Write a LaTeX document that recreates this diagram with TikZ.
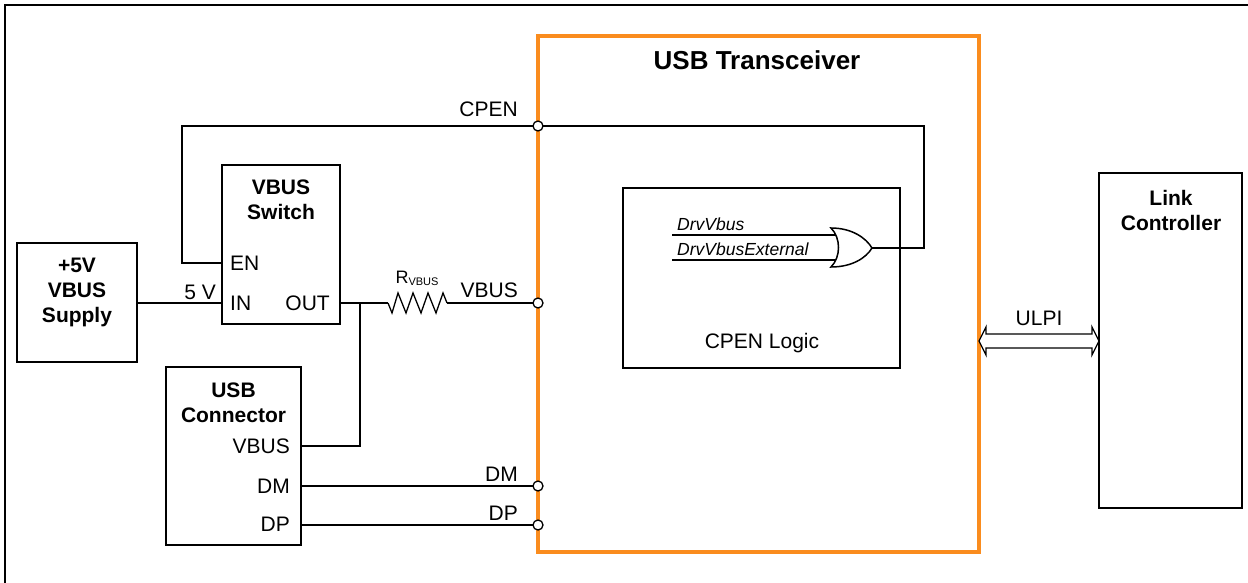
\documentclass[tikz,border=0pt]{standalone}
\usepackage{fontspec}
\setmainfont{Liberation Sans}
\definecolor{orng}{RGB}{250,140,30}
\begin{document}
\begin{tikzpicture}[x=1pt,y=-1pt,
  box/.style={draw, line width=1.5pt, inner sep=0pt},
  wire/.style={line width=1.3pt},
  pin/.style={circle, draw, fill=white, line width=1.3pt, minimum size=10pt, inner sep=0pt},
  lbl/.style={font=\fontsize{21}{25}\selectfont, inner sep=0pt},
  blbl/.style={font=\fontsize{21}{25}\selectfont\bfseries, align=center, inner sep=0pt},
  ilbl/.style={font=\fontsize{17.5}{20}\selectfont\itshape, inner sep=0pt}]
\useasboundingbox (0,0) rectangle (1248,583);
% outer frame (only top and left visible)
\draw[line width=2.5pt] (5,583) -- (5,5) -- (1248,5);

% boxes
\node[box, draw=orng, line width=4pt, minimum width=441pt, minimum height=516pt] (tx) at (758.5,294) {};
\node[box, minimum width=118pt, minimum height=159pt] (sw) at (281,244.5) {};
\node[box, minimum width=120pt, minimum height=119pt] (sup) at (77,302.5) {};
\node[box, minimum width=135pt, minimum height=178pt] (con) at (233.5,456) {};
\node[box, minimum width=277pt, minimum height=180pt] (logic) at (761.5,278) {};
\node[box, minimum width=143pt, minimum height=335pt] (link) at (1170.5,340.5) {};

% box titles
\node[blbl, font=\fontsize{26}{30}\selectfont\bfseries] (txt) at (757,60) {USB Transceiver};
\node[blbl] (swt) at (281,200) {VBUS\\Switch};
\node[blbl] (supt) at (77,292) {+5V\\VBUS\\Supply};
\node[blbl] (cont) at (233.5,403) {USB\\Connector};
\node[blbl] (linkt) at (1171,210) {Link\\Controller};
\node[lbl] (logict) at (762,343) {CPEN Logic};

% pin coordinates
\coordinate (supout) at (137,303);
\coordinate (swin) at (222,303);
\coordinate (swen) at (222,263);
\coordinate (swout) at (340,303);
\coordinate (junc) at (360,303);
\coordinate (rA) at (388,303);
\coordinate (rB) at (447,303);
\coordinate (tvbus) at (538,303);
\coordinate (tcpen) at (538,126);
\coordinate (cvbus) at (301,446);
\coordinate (cdm) at (301,486);
\coordinate (cdp) at (301,525);
\coordinate (tdm) at (538,486);
\coordinate (tdp) at (538,525);
\coordinate (cpl) at (182,126);
\coordinate (cpr) at (924,126);
\coordinate (orout) at (872,248);
\coordinate (in1a) at (672,235);
\coordinate (in1b) at (838,235);
\coordinate (in2a) at (672,260);
\coordinate (in2b) at (838,260);
\coordinate (ulpiL) at (979,341);
\coordinate (ulpiR) at (1099,341);

% pin labels inside boxes
\node[lbl, anchor=west] (en) at (230,263) {EN};
\node[lbl, anchor=west] (in) at (230,303) {IN};
\node[lbl, anchor=east] (out) at (330,303) {OUT};
\node[lbl, anchor=east] (cvb) at (290,446) {VBUS};
\node[lbl, anchor=east] (cdml) at (290,486) {DM};
\node[lbl, anchor=east] (cdpl) at (290,524) {DP};

% wires
\draw[wire] (supout) -- (swin);
\draw[wire] (orout) -- (orout -| cpr) -- (cpr) -- (cpl) |- (swen);
\draw[wire] (swout) -- (rA);
\draw[wire] (rA) -- ++(4,10) -- ++(6,-20) -- ++(8,20) -- ++(7,-20) -- ++(8,20) -- ++(7,-20) -- ++(8,20) -- ++(7,-20) -- (rB);
\draw[wire] (rB) -- (tvbus);
\draw[wire] (junc) |- (cvbus);
\draw[wire] (cdm) -- (tdm);
\draw[wire] (cdp) -- (tdp);
\draw[wire] (in1a) -- (in1b);
\draw[wire] (in2a) -- (in2b);

% OR gate
\draw[line width=1.5pt, fill=white] (831,228) .. controls (852,228) and (866,238) .. (orout)
  .. controls (866,258) and (852,267) .. (831,267)
  .. controls (841,257) and (841,238) .. (831,228) -- cycle;

% ULPI arrow
\draw[line width=1.2pt, fill=white] (ulpiL) -- ++(7,-14) -- ++(0,7) -- ++(106,0) -- ++(0,-7) -- (ulpiR)
  -- ++(-7,14) -- ++(0,-7) -- ++(-106,0) -- ++(0,7) -- cycle;

% wire labels
\node[lbl, anchor=base east] (lcpen) at (518,117) {CPEN};
\node[lbl, anchor=base east] (lvbus) at (518,297) {VBUS};
\node[lbl, anchor=base east] (ldm) at (518,481) {DM};
\node[lbl, anchor=base east] (ldp) at (518,520) {DP};
\node[lbl, anchor=base east] (l5v) at (216,299) {5 V};
\node[inner sep=0pt, anchor=base, font=\fontsize{18}{20}\selectfont] (lr) at (417,283) {R\raisebox{-2pt}{\fontsize{11}{12}\selectfont VBUS}};
\node[lbl, anchor=base] (lulpi) at (1039,325) {ULPI};
\node[ilbl, anchor=base west] (ld1) at (677,230) {DrvVbus};
\node[ilbl, anchor=base west] (ld2) at (677,255) {DrvVbusExternal};

% pins on transceiver
\node[pin] (pcpen) at (tcpen) {};
\node[pin] (pvbus) at (tvbus) {};
\node[pin] (pdm) at (tdm) {};
\node[pin] (pdp) at (tdp) {};
\end{tikzpicture}
\end{document}
